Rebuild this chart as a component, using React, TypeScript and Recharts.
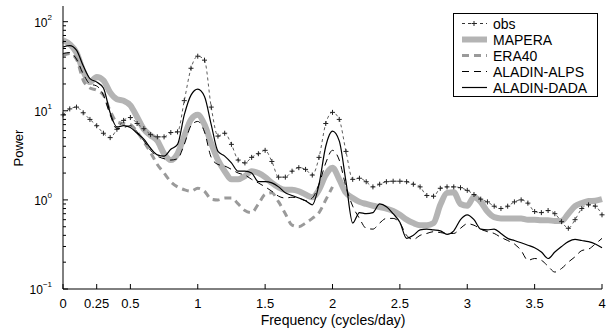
import React from 'react';
import { LineChart, Line, XAxis, YAxis, Legend } from 'recharts';

// frequency grid (cycles/day)
const freq = [
  0, 0.05, 0.1, 0.15, 0.2, 0.25, 0.3, 0.35, 0.4, 0.45,
  0.5, 0.55, 0.6, 0.65, 0.7, 0.75, 0.8, 0.85, 0.9, 0.95,
  1, 1.05, 1.1, 1.15, 1.2, 1.25, 1.3, 1.35, 1.4, 1.45,
  1.5, 1.55, 1.6, 1.65, 1.7, 1.75, 1.8, 1.85, 1.9, 1.95,
  2, 2.05, 2.1, 2.15, 2.2, 2.25, 2.3, 2.35, 2.4, 2.45,
  2.5, 2.55, 2.6, 2.65, 2.7, 2.75, 2.8, 2.85, 2.9, 2.95,
  3, 3.05, 3.1, 3.15, 3.2, 3.25, 3.3, 3.35, 3.4, 3.45,
  3.5, 3.55, 3.6, 3.65, 3.7, 3.75, 3.8, 3.85, 3.9, 3.95,
  4,
];

const obs = [
  9, 10.5, 11, 9.5, 8, 6.8, 5.6, 5.0, 6.2, 7.8,
  8.4, 7.2, 6.3, 5.4, 5.1, 5.1, 5.7, 5.8, 13, 30,
  41, 37, 11, 5.2, 5.6, 4.2, 2.8, 2.6, 3.0, 3.3,
  3.6, 2.7, 1.8, 1.8, 2.1, 2.3, 2.2, 1.9, 3.0, 7.2,
  9.6, 8.0, 3.5, 1.7, 1.75, 1.6, 1.4, 1.5, 1.6, 1.62,
  1.62, 1.6, 1.5, 1.4, 1.12, 1.1, 1.35, 1.4, 1.4, 1.37,
  1.28, 1.15, 1.02, 0.95, 0.85, 0.8, 0.85, 0.95, 1.0, 0.92,
  0.74, 0.72, 0.76, 0.7, 0.57, 0.48, 0.6, 0.8, 0.88, 0.85,
  0.68,
];

const mapera = [
  62, 56, 45, 28, 21, 24, 22, 16, 13.5, 13,
  11.5, 8.5, 6.2, 5.3, 4.6, 3.3, 2.8, 3.3, 5.2, 8.0,
  9.0, 7.0, 4.3, 2.8, 2.1, 1.7, 1.7, 1.85, 2.1, 2.0,
  1.8, 1.55, 1.38, 1.3, 1.3, 1.25, 1.15, 1.07, 1.3, 1.9,
  2.3, 1.7, 1.2, 1.05, 0.95, 0.9, 0.86, 0.83, 0.8, 0.75,
  0.68, 0.6, 0.55, 0.52, 0.52, 0.55, 0.88, 1.2, 1.22, 0.9,
  0.86, 1.08, 0.95, 0.74, 0.64, 0.62, 0.62, 0.62, 0.62, 0.6,
  0.6, 0.59, 0.59, 0.58, 0.58, 0.7, 0.85, 0.92, 0.97, 0.98,
  1.02,
];

// ERA40 stops at 2 cycles/day
const era40 = [
  42, 44, 38, 22, 18, 17, 15, 10, 7.5, 7.2,
  7.0, 5.8, 4.5, 3.4, 2.5, 2.0, 1.6, 1.4, 1.3, 1.25,
  1.35, 1.25, 1.02, 1.0, 1.05, 1.05, 0.9, 0.76, 0.72, 0.9,
  1.15, 1.2, 0.95, 0.7, 0.52, 0.5, 0.55, 0.62, 0.72, 1.0,
  1.4,
];

const alps = [
  44, 45, 38, 26, 20, 19, 15, 9, 6.3, 6.5,
  6.8, 5.8, 4.6, 3.6, 3.1, 2.9, 2.8, 2.9, 4.2, 6.8,
  7.6, 5.8, 3.0, 2.5, 2.4, 2.2, 2.0, 1.9, 1.7, 1.55,
  1.4, 1.25, 1.1, 1.05, 1.07, 1.05, 0.98, 1.05, 1.5, 2.6,
  3.6, 2.8, 1.4, 0.85, 0.62, 0.48, 0.47, 0.55, 0.62, 0.62,
  0.55, 0.4, 0.36, 0.4, 0.42, 0.44, 0.43, 0.42, 0.42, 0.48,
  0.54, 0.52, 0.47, 0.44, 0.42, 0.38, 0.35, 0.32, 0.27, 0.21,
  0.22, 0.21, 0.18, 0.155, 0.17, 0.2, 0.23, 0.27, 0.28, 0.32,
  0.37,
];

const dada = [
  52, 54, 48, 32, 23, 21, 18, 9.5, 6.6, 6.8,
  6.5, 5.6, 4.8, 3.8, 3.2, 3.1, 3.7, 4.2, 9, 15,
  17.5, 14.5, 7, 3.5, 3.1, 2.6, 2.1, 2.1, 2.0, 1.6,
  1.6, 1.55, 1.4, 1.2, 1.12, 1.05, 0.98, 0.88, 1.5, 4.0,
  5.9, 4.6, 1.6, 0.55, 0.72, 0.7, 0.72, 0.9, 0.84, 0.7,
  0.56, 0.37, 0.4, 0.46, 0.47, 0.46, 0.45, 0.41, 0.45, 0.6,
  0.68, 0.6, 0.47, 0.46, 0.47, 0.42, 0.37, 0.35, 0.33, 0.31,
  0.29, 0.26, 0.22, 0.26, 0.3, 0.34, 0.36, 0.35, 0.34, 0.32,
  0.29,
];

const xTicks = [0, 0.25, 0.5, 1, 1.5, 2, 2.5, 3, 3.5, 4];
const yMajor = [0.1, 1, 10, 100];
const yExp = ['\u22121', '0', '1', '2'];
const yMinor = [
  0.2, 0.3, 0.4, 0.5, 0.6, 0.7, 0.8, 0.9,
  2, 3, 4, 5, 6, 7, 8, 9,
  20, 30, 40, 50, 60, 70, 80, 90,
];
const yTicks = [...yMajor, ...yMinor];

const rows = freq.map((f, i) => ({
  f,
  obs: obs[i],
  mapera: mapera[i],
  era40: i < era40.length ? era40[i] : null,
  alps: alps[i],
  dada: dada[i],
}));

const FONT = '"Liberation Sans", Arial, Helvetica, sans-serif';

const legendItems = [
  { name: 'obs', color: '#333', width: 1, dash: '3 3', plus: true },
  { name: 'MAPERA', color: '#b4b4b4', width: 6, dash: undefined, plus: false },
  { name: 'ERA40', color: '#9a9a9a', width: 3, dash: '7 5', plus: false },
  { name: 'ALADIN-ALPS', color: '#000', width: 1, dash: '7 5', plus: false },
  { name: 'ALADIN-DADA', color: '#000', width: 1.2, dash: undefined, plus: false },
];

const PlusDot = (props: any) => {
  const { cx, cy, index } = props;
  if (cx == null || cy == null) return <g key={index} />;
  return (
    <path
      key={index}
      d={`M${cx - 2.5},${cy}h5M${cx},${cy - 2.5}v5`}
      stroke="#222"
      strokeWidth={1}
      fill="none"
    />
  );
};

const LeftTick = (props: any) => {
  const { x, y, payload } = props;
  const k = yMajor.indexOf(payload.value);
  const major = k >= 0;
  return (
    <g>
      <line x1={x} x2={x + (major ? 5 : 3)} y1={y} y2={y} stroke="#000" strokeWidth={1} />
      {major && (
        <text x={x - 11} y={y + 5} textAnchor="end" fontFamily={FONT} fontSize={12} fill="#000">
          <tspan>10</tspan>
          <tspan dy={-7} fontSize={8}>{yExp[k]}</tspan>
        </text>
      )}
    </g>
  );
};

const RightTick = (props: any) => {
  const { x, y, payload } = props;
  const major = yMajor.indexOf(payload.value) >= 0;
  return <line x1={x} x2={x - (major ? 5 : 3)} y1={y} y2={y} stroke="#000" strokeWidth={1} />;
};

const BottomTick = (props: any) => {
  const { x, y, payload } = props;
  return (
    <g>
      <line x1={x} x2={x} y1={y} y2={y - 5} stroke="#000" strokeWidth={1} />
      <text x={x} y={y + 19} textAnchor="middle" fontFamily={FONT} fontSize={13} fill="#000">
        {payload.value}
      </text>
    </g>
  );
};

const TopTick = (props: any) => {
  const { x, y } = props;
  return <line x1={x} x2={x} y1={y} y2={y + 5} stroke="#000" strokeWidth={1} />;
};

const LegendBox = () => (
  <svg width={145} height={84} style={{ display: 'block' }}>
    <rect x={0.5} y={0.5} width={144} height={83} fill="#fff" stroke="#000" strokeWidth={1} />
    {legendItems.map((it, i) => {
      const y = 10.5 + i * 16;
      return (
        <g key={it.name}>
          <line
            x1={9}
            x2={34}
            y1={y}
            y2={y}
            stroke={it.color}
            strokeWidth={it.width}
            strokeDasharray={it.dash}
          />
          {it.plus && (
            <path d={`M${18.5},${y}h5M${21},${y - 2.5}v5`} stroke="#222" strokeWidth={1} />
          )}
          <text x={40} y={y + 5} fontFamily={FONT} fontSize={14} fill="#000">
            {it.name}
          </text>
        </g>
      );
    })}
  </svg>
);

export default function App() {
  return (
    <div style={{ position: 'absolute', left: 0, top: 0, width: 610, height: 331, background: '#fff' }}>
      <LineChart width={610} height={331} data={rows} margin={{ top: 6, right: 8, bottom: 0, left: 0 }}>
        <XAxis
          dataKey="f"
          type="number"
          domain={[0, 4]}
          ticks={xTicks}
          interval={0}
          height={42}
          tickSize={0}
          tickMargin={0}
          tick={BottomTick}
          axisLine={{ stroke: '#000', strokeWidth: 1 }}
          label={{
            content: () => (
              <text x={333} y={325} textAnchor="middle" fontFamily={FONT} fontSize={14} fill="#000">
                Frequency (cycles/day)
              </text>
            ),
          }}
        />
        <XAxis
          xAxisId="top"
          orientation="top"
          dataKey="f"
          type="number"
          domain={[0, 4]}
          ticks={xTicks}
          interval={0}
          height={0}
          tickSize={0}
          tickMargin={0}
          tick={TopTick}
          axisLine={{ stroke: '#000', strokeWidth: 1 }}
        />
        <YAxis
          scale="log"
          type="number"
          domain={[0.1, 150]}
          allowDataOverflow
          ticks={yTicks}
          interval={0}
          width={63}
          tickSize={0}
          tickMargin={0}
          tick={LeftTick}
          axisLine={{ stroke: '#000', strokeWidth: 1 }}
          label={{
            content: () => (
              <text
                x={18}
                y={148}
                transform="rotate(-90 18 148)"
                textAnchor="middle"
                dominantBaseline="central"
                fontFamily={FONT}
                fontSize={13}
                fill="#000"
              >
                Power
              </text>
            ),
          }}
        />
        <YAxis
          yAxisId="right"
          orientation="right"
          scale="log"
          type="number"
          domain={[0.1, 150]}
          allowDataOverflow
          ticks={yTicks}
          interval={0}
          width={0}
          tickSize={0}
          tickMargin={0}
          tick={RightTick}
          axisLine={{ stroke: '#000', strokeWidth: 1 }}
        />
        <Line
          dataKey="mapera"
          type="monotone"
          stroke="#b4b4b4"
          strokeWidth={6}
          dot={false}
          isAnimationActive={false}
        />
        <Line
          dataKey="era40"
          type="monotone"
          stroke="#9a9a9a"
          strokeWidth={3}
          strokeDasharray="7 5"
          dot={false}
          isAnimationActive={false}
        />
        <Line
          dataKey="obs"
          type="monotone"
          stroke="#333"
          strokeWidth={0.8}
          strokeDasharray="3 3"
          dot={PlusDot}
          isAnimationActive={false}
        />
        <Line
          dataKey="alps"
          type="monotone"
          stroke="#000"
          strokeWidth={1}
          strokeDasharray="7 5"
          dot={false}
          isAnimationActive={false}
        />
        <Line
          dataKey="dada"
          type="monotone"
          stroke="#000"
          strokeWidth={1.2}
          dot={false}
          isAnimationActive={false}
        />
        <Legend
          layout="vertical"
          align="center"
          verticalAlign="middle"
          wrapperStyle={{ position: 'absolute', left: 453, top: 13, width: 145, height: 84 }}
          content={() => <LegendBox />}
        />
      </LineChart>
    </div>
  );
}
